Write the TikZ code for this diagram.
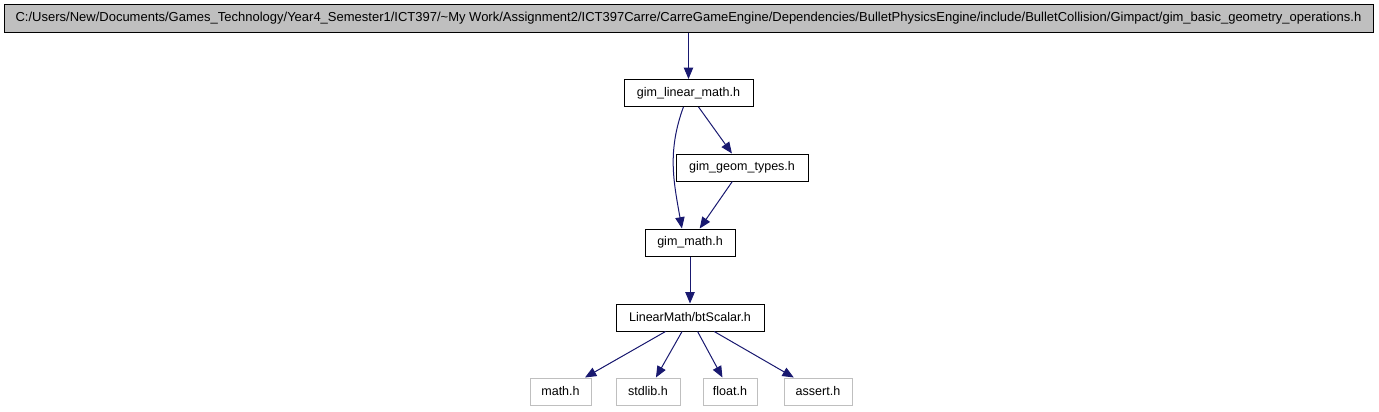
\documentclass[tikz,border=0pt]{standalone}
\usepackage{fontspec}
\setmainfont{Liberation Sans}
\usepackage{xcolor}
\definecolor{dgblue}{RGB}{25,25,112}
\definecolor{dggray}{RGB}{191,191,191}
\usetikzlibrary{arrows.meta, positioning}

\begin{document}
\begin{tikzpicture}[x=0.75pt, y=-0.75pt,
    every node/.style={font=\fontsize{9.4}{11}\selectfont, inner sep=0pt, minimum height=20.25pt},
    filebox/.style={draw=black, line width=0.75pt, fill=white},
    extbox/.style={draw=dggray, line width=0.75pt, fill=white},
    dep/.style={-{Triangle[length=8.5pt, width=7pt]}, dgblue, line width=0.75pt}]

\useasboundingbox (0,0) rectangle (1379,411);

% Main file
\node[filebox, fill=dggray, minimum width=1026.75pt, minimum height=21pt,
      font=\fontsize{9.75}{11}\selectfont] (basic) at (688.5,18)
  {C:/Users/New/Documents/Games\_Technology/Year4\_Semester1/ICT397/\textasciitilde My Work/Assignment2/ICT397Carre/CarreGameEngine/Dependencies/BulletPhysicsEngine/include/BulletCollision/Gimpact/gim\_basic\_geometry\_operations.h};

% Included headers
\node[filebox, minimum width=96.75pt] (linear) at (688.5,93) {gim\_linear\_math.h};
\node[filebox, minimum width=99pt] (geom) at (742,167.5) {gim\_geom\_types.h};
\node[filebox, minimum width=67.5pt] (gmath) at (690,242.5) {gim\_math.h};
\node[filebox, minimum width=111pt] (scalar) at (690,317.5) {LinearMath/btScalar.h};

% System headers
\node[extbox, minimum width=45.75pt] (mathh) at (560.5,391.5) {math.h};
\node[extbox, minimum width=48pt] (stdlib) at (648,391.5) {stdlib.h};
\node[extbox, minimum width=40.5pt] (floath) at (730,391.5) {float.h};
\node[extbox, minimum width=51pt] (assert) at (818,391.5) {assert.h};

% Connections
\draw[dep] (basic.south -| linear) -- (linear);
\draw[dep] (linear) -- (geom);
\draw[dep] (linear.250) to[out=-110, in=100] (gmath.120);
\draw[dep] (geom) -- (gmath);
\draw[dep] (gmath) -- (scalar);
\draw[dep] (scalar) -- (mathh);
\draw[dep] (scalar) -- (stdlib);
\draw[dep] (scalar) -- (floath);
\draw[dep] (scalar) -- (assert);

\end{tikzpicture}
\end{document}
